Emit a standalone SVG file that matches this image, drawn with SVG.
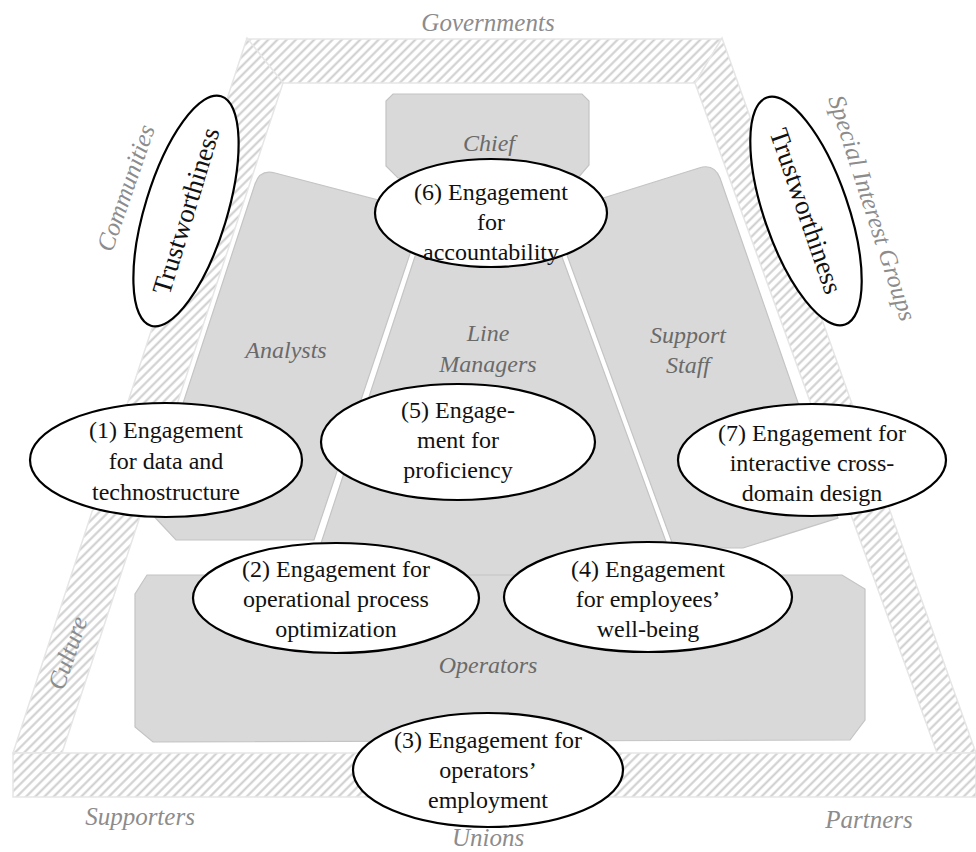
<svg xmlns="http://www.w3.org/2000/svg" width="976" height="852" viewBox="0 0 976 852">
<defs>
<pattern id="hatch" patternUnits="userSpaceOnUse" width="6.5" height="6.5" patternTransform="rotate(45)">
<rect width="6.5" height="6.5" fill="#ffffff"/>
<line x1="3.25" y1="0" x2="3.25" y2="6.5" stroke="#cdcdcd" stroke-width="2"/>
</pattern>
</defs>
<style>
text{font-family:'Liberation Serif','Times New Roman',serif}
.band{fill:url(#hatch);stroke:#e6e6e6;stroke-width:1.5}
.area{fill:#d9d9d9;stroke:#c4c4c4;stroke-width:1.2}
.ell{fill:#ffffff;stroke:#000000;stroke-width:2.2}
.t{font-size:24px;fill:#111;text-anchor:middle}
.tw{font-size:27px;fill:#111;text-anchor:middle}
.lab{font-size:24px;font-style:italic;fill:#6a6a6a;text-anchor:middle}
.out{font-size:25px;font-style:italic;fill:#8c8c8c;text-anchor:middle}
</style>
<rect width="976" height="852" fill="#ffffff"/>

<g id="environment">
<polygon class="band" points="247,39 722,39 695,83 283,83"/>
<polygon class="band" points="247,38 283,83 62,753 13,753"/>
<polygon class="band" points="722,38 695,83 937,753 976,753"/>
<polygon class="band" points="13,753 976,753 976,797 13,797"/>
<text class="out" x="488" y="31">Governments</text>
<text class="out" x="140" y="825">Supporters</text>
<text class="out" x="488" y="846">Unions</text>
<text class="out" x="869" y="828">Partners</text>
<text class="out" transform="translate(126,188) rotate(-71)" x="0" y="8">Communities</text>
<text class="out" transform="translate(68,653) rotate(-71)" x="0" y="8">Culture</text>
<text class="out" transform="translate(872,208) rotate(72)" x="0" y="8">Special Interest Groups</text>
</g>

<g id="chief">
<polygon class="area" points="393,94 582,94 589,101 589,165 578,178 398,178 386,166 386,101"/>
<text class="lab" x="489" y="151">Chief</text>
</g>
<g id="analysts">
<path class="area" d="M255,184 Q260,169 275,173 L424,212 L314,540 L176,540 L148,510 Z"/>
<text class="lab" x="286" y="358">Analysts</text>
</g>
<g id="line-managers">
<polygon class="area" points="422,235 554,235 680,580 309,580"/>
<text class="lab" x="488" y="341">Line</text>
<text class="lab" x="488" y="372">Managers</text>
</g>
<g id="support-staff">
<path class="area" d="M552,214 L699,168 Q714,163 720,178 L838,518 L743,548 L674,548 Z"/>
<text class="lab" x="688" y="343">Support</text>
<text class="lab" x="688" y="373">Staff</text>
</g>
<g id="operators">
<polygon class="area" points="147,575 842,575 865,589 865,720 850,740 153,742 135,727 135,594"/>
<text class="lab" x="488" y="673">Operators</text>
</g>

<g id="connectors"></g>

<g id="trust-left">
<ellipse class="ell" cx="186" cy="211" rx="120" ry="41" transform="rotate(-73 186 211)"/>
<text class="tw" transform="translate(186,211) rotate(-73)" x="0" y="9">Trustworthiness</text>
</g>
<g id="trust-right">
<ellipse class="ell" cx="806" cy="211" rx="120" ry="42" transform="rotate(71 806 211)"/>
<text class="tw" transform="translate(806,211) rotate(71)" x="0" y="9">Trustworthiness</text>
</g>

<g id="e6">
<ellipse class="ell" cx="491" cy="213" rx="116" ry="54"/>
<text class="t" x="491" y="200">(6) Engagement</text>
<text class="t" x="491" y="230">for</text>
<text class="t" x="491" y="260">accountability</text>
</g>
<g id="e1">
<ellipse class="ell" cx="166" cy="460" rx="136" ry="57"/>
<text class="t" x="166" y="438">(1) Engagement</text>
<text class="t" x="166" y="469">for data and</text>
<text class="t" x="166" y="500">technostructure</text>
</g>
<g id="e5">
<ellipse class="ell" cx="458" cy="442" rx="137" ry="58"/>
<text class="t" x="458" y="418">(5) Engage-</text>
<text class="t" x="458" y="448">ment for</text>
<text class="t" x="458" y="478">proficiency</text>
</g>
<g id="e7">
<ellipse class="ell" cx="812" cy="460" rx="134" ry="56"/>
<text class="t" x="812" y="441">(7) Engagement for</text>
<text class="t" x="812" y="471">interactive cross-</text>
<text class="t" x="812" y="501">domain design</text>
</g>
<g id="e2">
<ellipse class="ell" cx="336" cy="598" rx="143" ry="55"/>
<text class="t" x="336" y="577">(2) Engagement for</text>
<text class="t" x="336" y="607">operational process</text>
<text class="t" x="336" y="637">optimization</text>
</g>
<g id="e4">
<ellipse class="ell" cx="648" cy="597" rx="144" ry="55"/>
<text class="t" x="648" y="577">(4) Engagement</text>
<text class="t" x="648" y="607">for employees’</text>
<text class="t" x="648" y="637">well-being</text>
</g>
<g id="e3">
<ellipse class="ell" cx="488" cy="770" rx="135" ry="57"/>
<text class="t" x="488" y="748">(3) Engagement for</text>
<text class="t" x="488" y="778">operators’</text>
<text class="t" x="488" y="808">employment</text>
</g>
</svg>
